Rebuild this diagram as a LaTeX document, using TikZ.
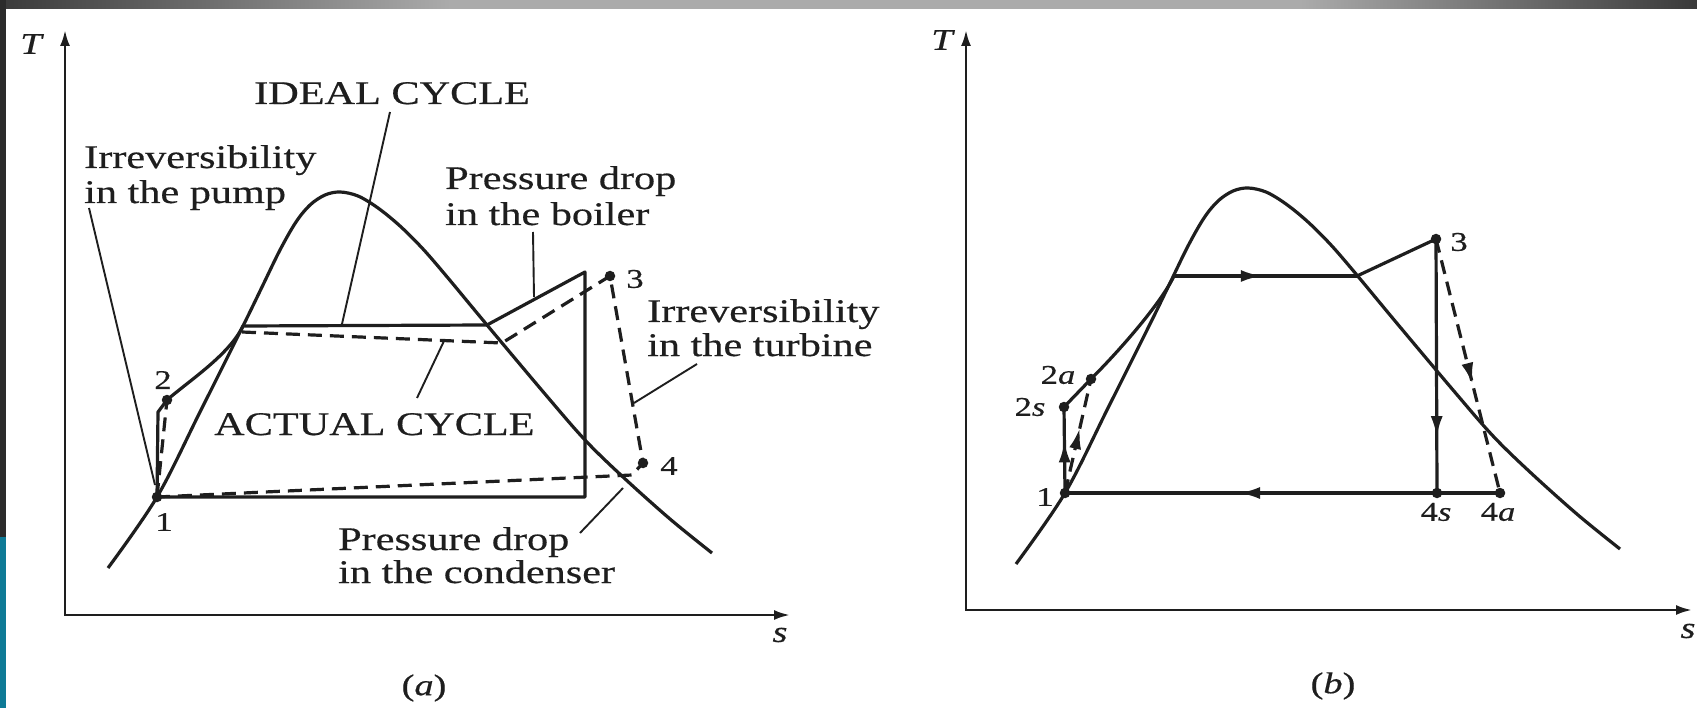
\documentclass[tikz,border=0pt]{standalone}
\usepackage{fontspec}
\newfontfamily\figfont[FakeStretch=1.28,FakeBold=0.5]{Liberation Serif}
\usetikzlibrary{arrows.meta,decorations.markings}
\definecolor{ink}{HTML}{1E1E1E}
\definecolor{banddark}{HTML}{3A3A3A}
\definecolor{bandlight}{HTML}{ABABAB}
\definecolor{stripdark}{HTML}{2B2B2B}
\definecolor{stripteal}{HTML}{0E7A96}
\begin{document}
\begin{tikzpicture}[x=1pt,y=-1pt,
  curve/.style={draw=ink, line width=3.2pt, line join=round},
  dashedcurve/.style={curve, dash pattern=on 14pt off 8pt},
  leader/.style={draw=ink, line width=1.9pt},
  axis/.style={draw=ink, line width=2.6pt, {Latex[length=16pt,width=10pt]}-{Latex[length=16pt,width=10pt]}},
  dot/.style={circle, fill=ink, inner sep=0pt, minimum size=10.5pt},
  lbl/.style={text=ink, font=\figfont\fontsize{33}{35}\selectfont, inner sep=0pt, anchor=base west},
  num/.style={text=ink, font=\figfont\fontsize{27}{30}\selectfont, inner sep=0pt},
  axlbl/.style={text=ink, font=\figfont\fontsize{30}{32}\selectfont\itshape, inner sep=0pt},
  midarrow/.style={postaction={decorate}, decoration={markings, mark=at position #1 with {\arrow{Latex[length=21pt,width=12pt]}}}}
]
\fill[white] (0,0) rectangle (1697,708);
\path[use as bounding box] (0,0) rectangle (1697,708);

% ================= panel (a) =================
\coordinate (aO) at (65,615);
\coordinate (aT) at (65,30);
\coordinate (aS) at (790,615);
\draw[axis] (aT) -- (aO) -- (aS);
\node[axlbl] (aTl) at (31,44) {T};
\node[axlbl] (aSl) at (780,635) {s};

% dome
\draw[curve] plot[smooth, tension=0.55] coordinates {(108,568) (157,497) (200,412) (243,326) (262,287) (280,250) (296,222) (310,205) (325,195) (340,192) (358,196) (378,208) (400,226) (423,249) (448,278) (487,325) (545,394) (585,440) (623,477) (670,519) (712,553)};

\coordinate (a1) at (157,497);
\coordinate (a2) at (167,400);
\coordinate (a2k) at (158,412);
\coordinate (af) at (243,326);
\coordinate (ag) at (487,325);
\coordinate (atop) at (585,272);
\coordinate (abr) at (585,497);
\coordinate (a3) at (610,276);
\coordinate (a4) at (643,463);
\coordinate (adl) at (242,332);
\coordinate (adr) at (502,343);
\coordinate (adb) at (632,475);

% ideal cycle
\draw[curve] (a1) -- (a2k) -- (a2) .. controls (190,380) and (229,355) .. (af) -- (ag) -- (atop) -- (abr) -- (a1);
% actual cycle
\draw[dashedcurve] (a1) -- (a2);
\draw[dashedcurve] (adl) -- (adr) -- (a3) -- (a4) -- (adb) -- (a1);

\node[dot] (d1) at (a1) {};
\node[dot] (d2) at (a2) {};
\node[dot] (d3) at (a3) {};
\node[dot] (d4) at (a4) {};
\node[num] (n1) at (164,522) {1};
\node[num] (n2) at (163,380) {2};
\node[num] (n3) at (635,279) {3};
\node[num] (n4) at (669,466) {4};

% texts
\node[lbl] (tIdeal) at (254,104) {IDEAL CYCLE};
\node[lbl] (tPumpA) at (84,168) {Irreversibility};
\node[lbl] (tPumpB) at (84,203) {in the pump};
\node[lbl] (tBoilA) at (445,189) {Pressure drop};
\node[lbl] (tBoilB) at (445,225) {in the boiler};
\node[lbl] (tTurbA) at (647,322) {Irreversibility};
\node[lbl] (tTurbB) at (647,356) {in the turbine};
\node[lbl] (tActual) at (214,435) {ACTUAL CYCLE};
\node[lbl] (tCondA) at (338,550) {Pressure drop};
\node[lbl] (tCondB) at (338,583) {in the condenser};
\node[axlbl, font=\figfont\fontsize{30}{32}\selectfont] (capA) at (424,688) {(\textit{a})};

% leaders
\coordinate (lp1) at (89,208);   \coordinate (lp2) at (155,485);
\coordinate (li1) at (390,112);  \coordinate (li2) at (342,324);
\coordinate (la1) at (417,398);  \coordinate (la2) at (444,341);
\coordinate (lb1) at (533,232);  \coordinate (lb2) at (534,297);
\coordinate (lt1) at (697,364);  \coordinate (lt2) at (634,403);
\coordinate (lc1) at (580,533);  \coordinate (lc2) at (623,488);
\draw[leader] (lp1) -- (lp2);
\draw[leader] (li1) -- (li2);
\draw[leader] (la1) -- (la2);
\draw[leader] (lb1) -- (lb2);
\draw[leader] (lt1) -- (lt2);
\draw[leader] (lc1) -- (lc2);

% ================= panel (b) =================
\coordinate (bO) at (966,610);
\coordinate (bT) at (966,30);
\coordinate (bS) at (1692,610);
\draw[axis] (bT) -- (bO) -- (bS);
\node[axlbl] (bTl) at (942,40) {T};
\node[axlbl] (bSl) at (1688,631) {s};

\draw[curve] plot[smooth, tension=0.55] coordinates {(1016,564) (1065,493) (1108,408) (1151,322) (1170,283) (1188,246) (1204,218) (1218,201) (1233,191) (1248,188) (1266,192) (1286,204) (1308,222) (1331,245) (1356,274) (1395,321) (1453,390) (1493,436) (1531,473) (1578,515) (1620,549)};

\coordinate (b1) at (1065,493);
\coordinate (b2s) at (1064,407);
\coordinate (b2a) at (1091,379);
\coordinate (bf) at (1174,276);
\coordinate (bg) at (1357,276);
\coordinate (b3) at (1436,239);
\coordinate (b4s) at (1437,493);
\coordinate (b4a) at (1500,493);

\draw[curve, midarrow=0.6] (b1) -- (b2s);
\draw[curve] (b2s) -- (b2a) .. controls (1121,349) and (1161,303) .. (bf);
\draw[curve, midarrow=0.48] (bf) -- (bg);
\draw[curve] (bg) -- (b3);
\draw[curve, midarrow=0.78] (b3) -- (b4s);
\draw[curve, midarrow=0.6] (b4a) -- (b1);
\draw[dashedcurve, midarrow=0.57] (b1) -- (b2a);
\draw[dashedcurve, midarrow=0.57] (b3) -- (b4a);

\node[dot] (e1) at (b1) {};
\node[dot] (e2s) at (b2s) {};
\node[dot] (e2a) at (b2a) {};
\node[dot] (e3) at (b3) {};
\node[dot] (e4s) at (b4s) {};
\node[dot] (e4a) at (b4a) {};
\node[num] (m1) at (1045,497) {1};
\node[num] (m2s) at (1030,407) {2\textit{s}};
\node[num] (m2a) at (1058,375) {2\textit{a}};
\node[num] (m3) at (1459,242) {3};
\node[num] (m4s) at (1436,512) {4\textit{s}};
\node[num] (m4a) at (1498,512) {4\textit{a}};
\node[axlbl, font=\figfont\fontsize{30}{32}\selectfont] (capB) at (1333,686) {(\textit{b})};

% ================= frame =================
\shade[left color=banddark, right color=bandlight] (0,0) rectangle (450,9);
\fill[bandlight] (450,0) rectangle (1300,9);
\shade[left color=bandlight, right color=banddark] (1300,0) rectangle (1697,9);
\fill[stripdark] (0,0) rectangle (6,537);
\fill[stripteal] (0,537) rectangle (6,708);
\end{tikzpicture}
\end{document}
